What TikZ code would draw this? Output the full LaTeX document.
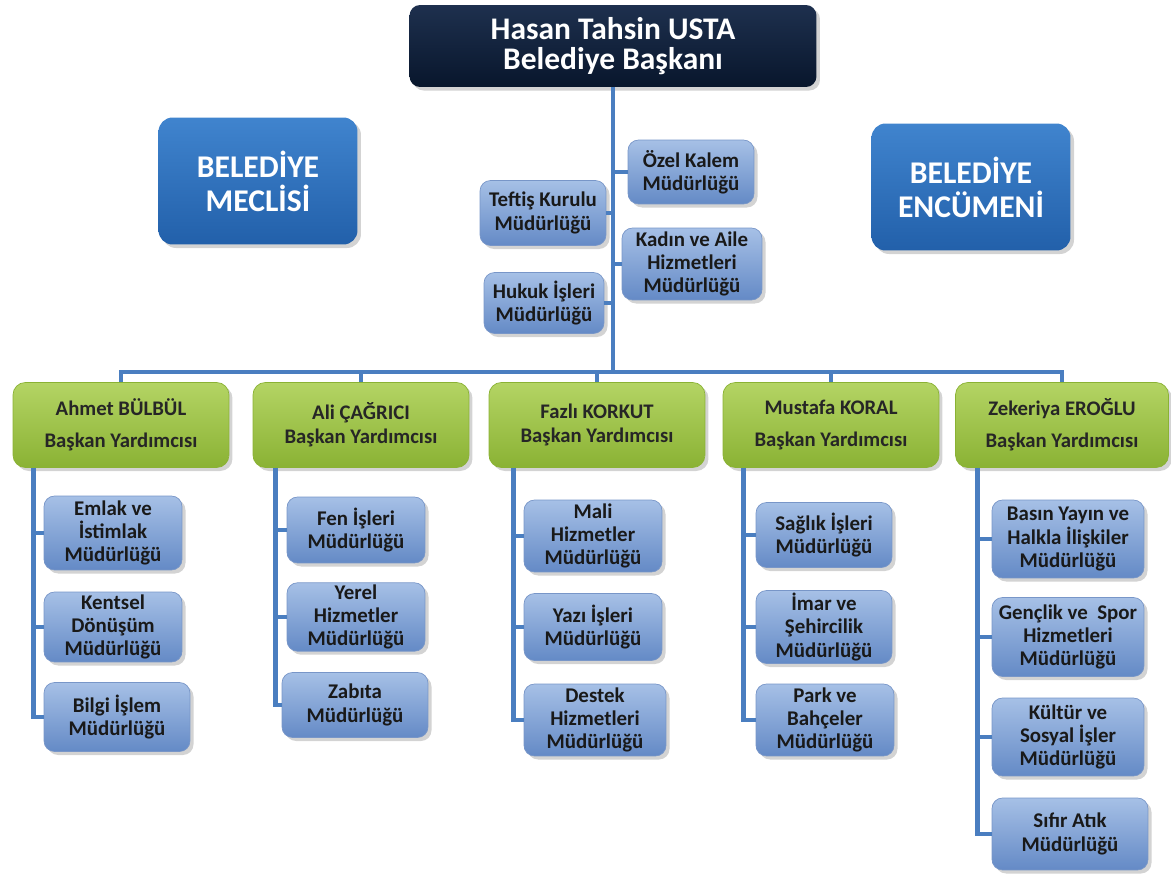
\documentclass[tikz,border=0pt]{standalone}
\usepackage{fontspec}
\setmainfont{Carlito}
\usetikzlibrary{calc,shadows}
\definecolor{linkblue}{RGB}{74,126,192}
\definecolor{navytop}{RGB}{30,48,78}
\definecolor{navybot}{RGB}{8,22,44}
\definecolor{bigtop}{RGB}{64,132,206}
\definecolor{bigbot}{RGB}{34,96,170}
\definecolor{greentop}{RGB}{180,212,100}
\definecolor{greenbot}{RGB}{138,178,52}
\definecolor{unittop}{RGB}{166,192,230}
\definecolor{unitbot}{RGB}{100,138,198}
\definecolor{unitedge}{RGB}{120,150,200}
\tikzset{
  box/.style={align=center, inner sep=1pt,
    drop shadow={opacity=0.35, shadow xshift=2pt, shadow yshift=-2pt}},
  mayor/.style={box, rounded corners=6pt, top color=navytop, bottom color=navybot,
    text=white, minimum width=8.14cm, minimum height=1.64cm,
    font=\fontsize{17.9}{17.5}\selectfont\bfseries},
  council/.style={box, rounded corners=8pt, top color=bigtop, bottom color=bigbot,
    text=white, minimum width=3.98cm, minimum height=2.54cm,
    font=\fontsize{18}{19.4}\selectfont\bfseries},
  deputy/.style={box, rounded corners=7pt, top color=greentop, bottom color=greenbot,
    draw=greenbot, text={black!85}, minimum width=4.32cm, minimum height=1.7cm,
    font=\fontsize{11.8}{13.7}\selectfont\bfseries},
  unit/.style={box, rounded corners=6pt, top color=unittop, bottom color=unitbot,
    draw=unitedge, text={black!90}, minimum width=2.76cm, minimum height=1.4cm,
    font=\fontsize{11.9}{13.3}\selectfont\bfseries},
  link/.style={draw=linkblue, line width=2.8pt}
}
\begin{document}
\begin{tikzpicture}[x=0.02cm, y=-0.02cm]
\useasboundingbox (0,0) rectangle (1171,882);

% top level
\node (mayor) [mayor] at (613,46) {Hasan Tahsin USTA\\Belediye Başkanı};
\node (meclis) [council] at (258,181) {BELEDİYE\\MECLİSİ};
\node (encumen) [council] at (971,187) {BELEDİYE\\ENCÜMENİ};

% staff units on the trunk
\node (ozel) [unit, minimum width=2.52cm, minimum height=1.28cm] at (691,172) {Özel Kalem\\Müdürlüğü};
\node (teftis) [unit, minimum width=2.52cm, minimum height=1.3cm] at (543,213) {Teftiş Kurulu\\Müdürlüğü};
\node (kadin) [unit, minimum width=2.8cm, minimum height=1.44cm] at (692,264) {Kadın ve Aile\\Hizmetleri\\Müdürlüğü};
\node (hukuk) [unit, minimum width=2.4cm, minimum height=1.22cm] at (544,303) {Hukuk İşleri\\Müdürlüğü};

% deputies
\node (ahmet) [deputy] at (121,425) {Ahmet BÜLBÜL\\[4.5pt]Başkan Yardımcısı};
\node (ali) [deputy] at (361,425) {Ali ÇAĞRICI\\Başkan Yardımcısı};
\node (fazli) [deputy] at (597,425) {Fazlı KORKUT\\Başkan Yardımcısı};
\node (mustafa) [deputy] at (831,425) {Mustafa KORAL\\[4.5pt]Başkan Yardımcısı};
\node (zekeriya) [deputy, minimum width=4.26cm] at (1062,425) {Zekeriya EROĞLU\\[4.5pt]Başkan Yardımcısı};

% units under each deputy
\node (emlak) [unit, minimum height=1.48cm] at (113,533) {Emlak ve\\İstimlak\\Müdürlüğü};
\node (kentsel) [unit] at (113,627) {Kentsel\\Dönüşüm\\Müdürlüğü};
\node (bilgi) [unit, minimum width=2.92cm, minimum height=1.38cm] at (117,717) {Bilgi İşlem\\Müdürlüğü};

\node (fen) [unit, minimum height=1.32cm] at (356,530) {Fen İşleri\\Müdürlüğü};
\node (yerel) [unit, minimum height=1.32cm] at (356,617) {Yerel\\Hizmetler\\Müdürlüğü};
\node (zabita) [unit, minimum width=2.92cm, minimum height=1.3cm] at (355,705) {Zabıta\\Müdürlüğü};

\node (mali) [unit, minimum height=1.44cm] at (593,536) {Mali\\Hizmetler\\Müdürlüğü};
\node (yazi) [unit, minimum height=1.34cm] at (593,627) {Yazı İşleri\\Müdürlüğü};
\node (destek) [unit, minimum width=2.84cm, minimum height=1.44cm] at (595,720) {Destek\\Hizmetleri\\Müdürlüğü};

\node (saglik) [unit, minimum width=2.72cm, minimum height=1.3cm] at (824,535) {Sağlık İşleri\\Müdürlüğü};
\node (imar) [unit, minimum width=2.72cm, minimum height=1.46cm] at (824,627) {İmar ve\\Şehircilik\\Müdürlüğü};
\node (park) [unit, minimum height=1.44cm] at (825,720) {Park ve\\Bahçeler\\Müdürlüğü};

\node (basin) [unit, minimum width=3.04cm, minimum height=1.56cm] at (1068,539) {Basın Yayın ve\\Halkla İlişkiler\\Müdürlüğü};
\node (genclik) [unit, minimum width=3.04cm, minimum height=1.58cm] at (1068,637) {Gençlik ve\ \ Spor\\Hizmetleri\\Müdürlüğü};
\node (kultur) [unit, minimum width=3.04cm, minimum height=1.56cm] at (1068,737) {Kültür ve\\Sosyal İşler\\Müdürlüğü};
\node (sifir) [unit, minimum width=3.12cm, minimum height=1.44cm] at (1070,834) {Sıfır Atık\\Müdürlüğü};

% trunk and bus
\coordinate (hub) at (613,372);
\draw[link] (mayor.south) -- (hub);
\draw[link] (ahmet.north) |- (hub) -| (zekeriya.north);
\foreach \d in {ali,fazli,mustafa}
  \draw[link] (\d.north) -- (\d.north |- hub);
\foreach \s in {ozel,kadin}
  \draw[link] (\s.west) -- (\s.west -| hub);
\foreach \s in {teftis,hukuk}
  \draw[link] (\s.east) -- (\s.east -| hub);

% columns
\coordinate (c1) at ($(ahmet.south west)+(21,0)$);
\coordinate (c2) at ($(ali.south west)+(23,0)$);
\coordinate (c3) at ($(fazli.south west)+(25,0)$);
\coordinate (c4) at ($(mustafa.south west)+(21,0)$);
\coordinate (c5) at ($(zekeriya.south west)+(22,0)$);
\draw[link] (c1) |- (bilgi.west);
\draw[link] (c2) |- (zabita.west);
\draw[link] (c3) |- (destek.west);
\draw[link] (c4) |- (park.west);
\draw[link] (c5) |- (sifir.west);
\foreach \u/\c in {emlak/c1,kentsel/c1,fen/c2,yerel/c2,mali/c3,yazi/c3,
                   saglik/c4,imar/c4,basin/c5,genclik/c5,kultur/c5}
  \draw[link] (\u.west) -- (\u.west -| \c);
\end{tikzpicture}
\end{document}
